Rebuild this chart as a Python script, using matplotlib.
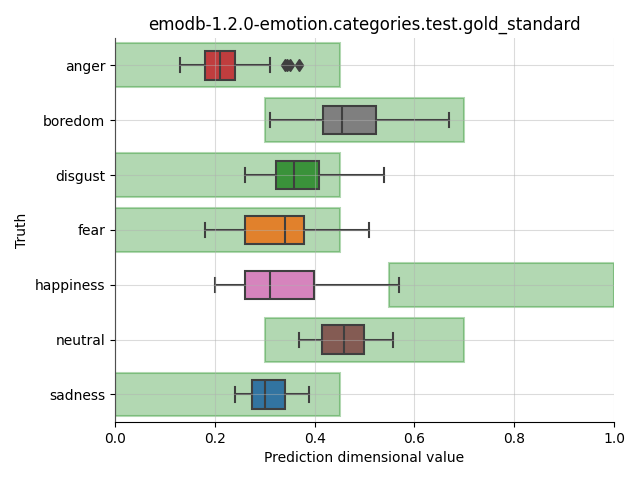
import matplotlib
matplotlib.use("Agg")
import matplotlib.pyplot as plt
from matplotlib.patches import Rectangle

categories = ["anger", "boredom", "disgust", "fear", "happiness", "neutral", "sadness"]
whislo = [0.13, 0.311, 0.26, 0.18, 0.20, 0.369, 0.24]
q1 = [0.18, 0.416, 0.322, 0.26, 0.26, 0.415, 0.275]
med = [0.21, 0.455, 0.359, 0.34, 0.311, 0.459, 0.301]
q3 = [0.241, 0.524, 0.409, 0.379, 0.399, 0.499, 0.341]
whishi = [0.311, 0.669, 0.539, 0.509, 0.569, 0.558, 0.389]
outliers = [[0.34, 0.345, 0.351, 0.369], [], [], [], [], [], []]
range_lo = [0.0, 0.3, 0.0, 0.0, 0.55, 0.3, 0.0]
range_hi = [0.45, 0.7, 0.45, 0.45, 1.0, 0.7, 0.45]
colors = ["#c03d3e", "#7f7f7f", "#3a923a", "#e1812c", "#d684bd", "#845b53", "#3274a1"]

fig = plt.figure(figsize=(6.4, 4.8), dpi=100)
ax = fig.add_axes([0.1797, 0.121, 0.7797, 0.8])

for i in range(len(categories)):
    ax.add_patch(Rectangle((range_lo[i], i - 0.4), range_hi[i] - range_lo[i], 0.8,
                           facecolor="green", edgecolor="green", alpha=0.3, linewidth=1.5, zorder=1))

stats = []
for i in range(len(categories)):
    stats.append(dict(whislo=whislo[i], q1=q1[i], med=med[i], q3=q3[i], whishi=whishi[i], fliers=outliers[i]))

lc = "#3f3f3f"
bp = ax.bxp(stats, positions=list(range(len(categories))), widths=0.52, vert=False,
            patch_artist=True, showfliers=True,
            boxprops=dict(edgecolor=lc, linewidth=1.5),
            whiskerprops=dict(color=lc, linewidth=1.5),
            capprops=dict(color=lc, linewidth=1.5),
            medianprops=dict(color=lc, linewidth=1.5),
            flierprops=dict(marker="d", markerfacecolor=lc, markeredgecolor=lc, markersize=6))
for patch, c in zip(bp["boxes"], colors):
    patch.set_facecolor(c)
for k in bp:
    for a in bp[k]:
        a.set_zorder(2)

ax.set_xlim(0, 1.0)
ax.set_ylim(len(categories) - 0.5, -0.5)
ax.set_yticks(range(len(categories)))
ax.set_yticklabels(categories)
ax.set_xticks([0.0, 0.2, 0.4, 0.6, 0.8, 1.0])
ax.set_xticklabels(["0.0", "0.2", "0.4", "0.6", "0.8", "1.0"])
ax.grid(True, color="#b0b0b0", alpha=0.45, linewidth=0.8, zorder=3)
ax.set_axisbelow(False)
for s in ["top", "right"]:
    ax.spines[s].set_visible(False)
ax.set_title("emodb-1.2.0-emotion.categories.test.gold_standard")
ax.set_xlabel("Prediction dimensional value")
ax.set_ylabel("Truth")

fig.savefig("out.png", dpi=100)
